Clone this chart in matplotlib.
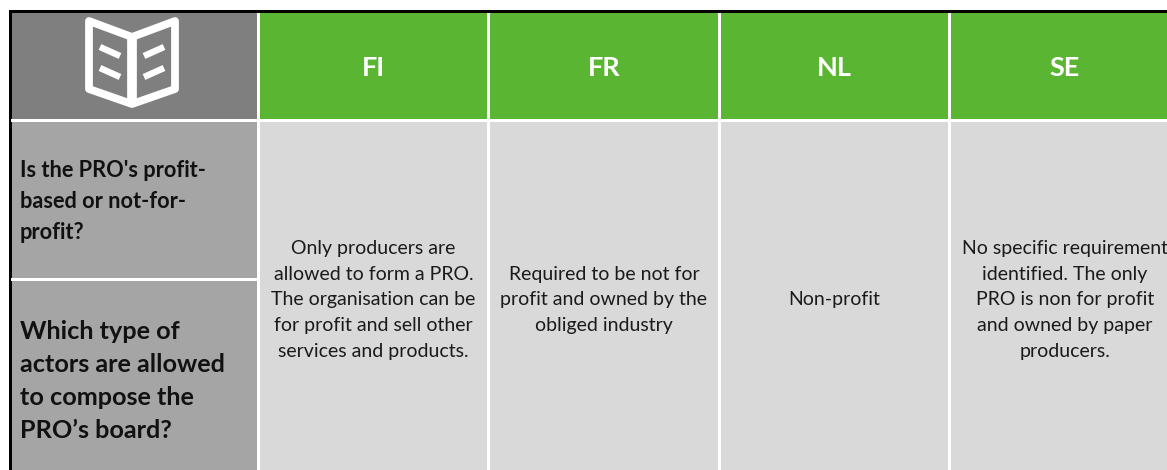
import matplotlib
matplotlib.use('Agg')
import matplotlib.pyplot as plt
from matplotlib.patches import Rectangle, Polygon

plt.rcParams['font.family'] = ['Lato', 'DejaVu Sans']

countries = ['FI', 'FR', 'NL', 'SE']
questions = ["Is the PRO's profit-\nbased or not-for-\nprofit?",
             "Which type of\nactors are allowed\nto compose the\nPRO\u2019s board?"]
answers = ["Only producers are\nallowed to form a PRO.\nThe organisation can be\nfor profit and sell other\nservices and products.",
           "Required to be not for\nprofit and owned by the\nobliged industry",
           "Non-profit",
           "No specific requirement\nidentified. The only\nPRO is non for profit\nand owned by paper\nproducers."]

# column and row edges in pixels
col_edges = [12, 260, 490, 721, 951, 1167]
head_top = 13
head_bottom = 119
body_top = 122
row_split = 279.5
bottom = 470
gap = 3

GREEN = '#5ab532'
DARK = '#7f7f7f'
MID = '#a5a5a5'
LIGHT = '#d9d9d9'
TEXT = '#1a1a1a'


def rect(ax, x0, y0, x1, y1, color):
    ax.add_patch(Rectangle((x0, y0), x1 - x0, y1 - y0, facecolor=color, edgecolor='none'))


def draw_icon(ax):
    ax.add_patch(Polygon([(89, 21), (132, 37), (175, 21), (175, 89), (132, 104), (89, 89)],
                         closed=True, fill=False, edgecolor='white', lw=5.6, joinstyle='round'))
    ax.plot([132, 132], [37, 104], lw=7, color='white', solid_capstyle='butt')
    for y in (47, 68):
        ax.plot([100, 120], [y, y + 9], lw=4.6, color='white', solid_capstyle='butt')
        ax.plot([144, 164], [y + 9, y], lw=4.6, color='white', solid_capstyle='butt')


def main():
    fig = plt.figure(figsize=(11.67, 4.70), dpi=100)
    ax = fig.add_axes([0, 0, 1, 1])
    ax.set_xlim(0, 1167)
    ax.set_ylim(470, 0)
    ax.axis('off')

    # black frame at top and left
    rect(ax, 9, 10, 1167, 13, 'black')
    rect(ax, 9, 10, 12, 470, 'black')

    # first column
    rect(ax, 12, head_top, col_edges[1] - gap, head_bottom, DARK)
    rect(ax, 12, body_top, col_edges[1] - gap, row_split - 1.5, MID)
    rect(ax, 12, row_split + 1.5, col_edges[1] - gap, bottom, MID)
    rect(ax, 11, head_bottom, col_edges[1] - gap, body_top, 'white')
    rect(ax, 11, row_split - 1.5, col_edges[1] - gap, row_split + 1.5, 'white')
    draw_icon(ax)

    ax.text(20, 201.5, questions[0], fontsize=15.7, fontweight='bold', color='#111111',
            ha='left', va='center', linespacing=1.6)
    ax.text(20, 381, questions[1], fontsize=18.2, fontweight='bold', color='#111111',
            ha='left', va='center', linespacing=1.52)

    # country columns
    for i, name in enumerate(countries):
        x0 = col_edges[i + 1]
        x1 = col_edges[i + 2] - (gap if i < 3 else 0)
        rect(ax, x0, head_top, x1, head_bottom, GREEN)
        rect(ax, x0, body_top, x1, bottom, LIGHT)
        xc = (x0 + col_edges[i + 2] - gap) / 2 if i < 3 else 1065
        ax.text(xc, 68, name, fontsize=19.5, fontweight='bold', color='white', ha='center', va='center')
        ax.text(xc, 300, answers[i], fontsize=14, color=TEXT, ha='center', va='center',
                linespacing=1.61)

    fig.savefig('out.png', dpi=100)


if __name__ == '__main__':
    main()
